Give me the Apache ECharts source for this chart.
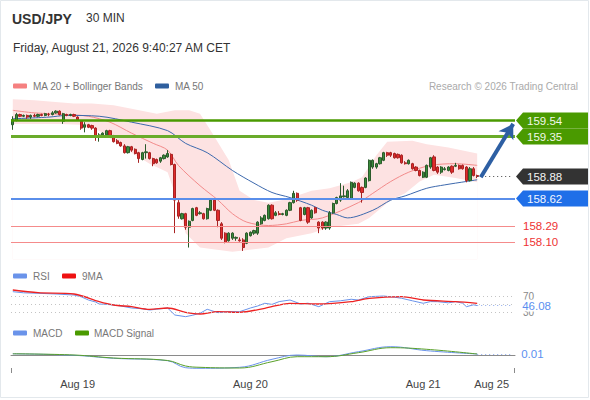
<!DOCTYPE html>
<html><head><meta charset="utf-8">
<script src="https://cdn.jsdelivr.net/npm/echarts/dist/echarts.min.js"></script>
<style>html,body{margin:0;padding:0;background:#fff}#c{width:590px;height:400px}</style>
</head><body><div id="c"></div><script>
// ---------- data ----------
const N_CATS = 140;
const tickIdx = [18, 66, 114, 133];
const tickLabels = ['Aug 19', 'Aug 20', 'Aug 21', 'Aug 25'];

const open = [159.49,159.54,159.61,159.59,159.60,159.58,159.60,159.59,159.61,159.60,
159.61,159.61,159.63,159.65,159.53,159.61,159.60,159.61,159.58,159.53,
159.46,159.49,159.48,159.45,159.35,159.37,159.37,159.42,159.36,159.30,
159.28,159.24,159.16,159.23,159.20,159.16,159.08,159.16,159.16,159.09,
159.08,159.06,159.09,159.11,159.14,159.02,158.57,158.38,158.44,158.28,
158.36,158.51,158.44,158.44,158.38,158.48,158.60,158.48,158.32,158.21,
158.12,158.15,158.15,158.13,158.13,158.09,158.18,158.21,158.21,158.32,
158.36,158.38,158.54,158.42,158.44,158.43,158.42,158.48,158.57,158.68,
158.51,158.43,158.51,158.39,158.51,158.34,158.34,158.27,158.27,158.45,
158.56,158.60,158.64,158.63,158.62,158.75,158.80,158.75,158.75,158.83,
158.99,158.99,159.03,159.07,159.16,159.16,159.15,159.14,159.13,159.04,
159.03,159.03,158.99,158.95,158.87,158.87,158.99,159.11,158.99,158.93,
158.96,158.95,159.00,159.00,159.01,159.01,158.99,158.83,158.97,158.89];
const close = [159.55,159.61,159.59,159.60,159.58,159.60,159.59,159.61,159.60,159.62,
159.61,159.63,159.65,159.61,159.62,159.60,159.61,159.59,159.55,159.45,
159.49,159.46,159.45,159.36,159.37,159.39,159.42,159.36,159.29,159.27,
159.24,159.16,159.23,159.19,159.15,159.09,159.16,159.17,159.09,159.03,
159.04,159.10,159.13,159.15,159.02,158.60,158.41,158.44,158.28,158.35,
158.50,158.42,158.45,158.38,158.50,158.60,158.48,158.36,158.15,158.10,
158.21,158.21,158.16,158.12,158.04,158.21,158.22,158.24,158.34,158.39,
158.42,158.54,158.38,158.45,158.43,158.44,158.48,158.57,158.68,158.60,
158.36,158.51,158.34,158.48,158.45,158.27,158.27,158.34,158.45,158.56,
158.63,158.65,158.65,158.71,158.81,158.80,158.71,158.69,158.86,159.07,
159.07,159.03,159.10,159.16,159.13,159.13,159.10,159.10,159.04,159.03,
159.07,158.97,158.95,158.89,158.93,159.01,159.10,158.95,158.93,158.99,
158.97,158.99,158.93,159.01,158.97,158.97,158.83,158.97,158.89,158.88];
const low = [159.43,159.53,159.58,159.58,159.56,159.56,159.58,159.58,159.59,159.59,
159.59,159.60,159.62,159.60,159.50,159.59,159.59,159.58,159.54,159.43,
159.40,159.45,159.43,159.30,159.29,159.36,159.36,159.35,159.28,159.26,
159.23,159.15,159.15,159.17,159.14,159.04,159.07,159.09,159.08,159.00,
159.03,159.04,159.08,159.10,159.01,158.21,158.38,158.37,158.25,158.04,
158.35,158.41,158.43,158.37,158.37,158.47,158.47,158.28,158.13,158.09,
158.11,158.13,158.12,158.11,158.00,158.08,158.17,158.19,158.19,158.31,
158.35,158.37,158.37,158.41,158.42,158.42,158.41,158.47,158.56,158.58,
158.35,158.42,158.32,158.38,158.44,158.21,158.25,158.25,158.25,158.44,
158.55,158.58,158.63,158.62,158.61,158.74,158.70,158.57,158.74,158.82,
158.97,158.97,159.02,159.06,159.11,159.11,159.09,159.09,159.03,159.02,
159.02,158.96,158.94,158.88,158.86,158.86,158.97,158.94,158.91,158.91,
158.95,158.94,158.91,158.99,158.96,158.96,158.81,158.82,158.88,158.86];
const high = [159.59,159.63,159.62,159.61,159.61,159.61,159.62,159.62,159.62,159.63,
159.63,159.65,159.66,159.66,159.63,159.62,159.62,159.62,159.59,159.54,
159.52,159.50,159.49,159.46,159.39,159.40,159.43,159.43,159.37,159.32,
159.29,159.26,159.24,159.24,159.21,159.17,159.17,159.26,159.17,159.10,
159.09,159.11,159.14,159.19,159.15,159.03,158.60,158.45,158.45,158.36,
158.51,158.52,158.47,158.45,158.51,158.61,158.61,158.49,158.34,158.22,
158.22,158.22,158.17,158.16,158.15,158.22,158.23,158.25,158.35,158.41,
158.43,158.55,158.55,158.47,158.47,158.45,158.49,158.58,158.71,158.69,
158.52,158.52,158.52,158.49,158.52,158.35,158.35,158.35,158.47,158.57,
158.64,158.80,158.77,158.73,158.82,158.81,158.81,158.76,158.87,159.08,
159.08,159.04,159.11,159.17,159.17,159.17,159.16,159.15,159.14,159.06,
159.08,159.04,159.00,158.96,158.94,159.02,159.11,159.13,159.00,159.00,
158.99,159.00,159.01,159.04,159.02,159.02,159.00,158.99,158.99,158.90];

// [bar index, value]
const ma20 = [[0,159.66],[6,159.63],[15,159.61],[21,159.59],[27,159.52],[33,159.39],[39,159.27],[43,159.19],[46,159.01],[52,158.77],[57,158.60],[61,158.44],[65,158.34],[71,158.30],[76,158.32],[80,158.36],[86,158.39],[96,158.57],[100,158.68],[105,158.82],[110,158.93],[116,159.01],[123,159.03],[129,159.01]];
const ma50 = [[0,159.56],[10,159.58],[15,159.60],[24,159.59],[33,159.52],[43,159.42],[48,159.27],[54,159.16],[61,158.95],[67,158.80],[72,158.69],[77,158.63],[83,158.54],[86,158.48],[90,158.43],[93,158.39],[100,158.48],[105,158.60],[109,158.65],[115,158.74],[120,158.78],[126,158.82],[129,158.84]];
const bbUpper = [[0,159.79],[6,159.78],[11,159.76],[17,159.74],[22,159.74],[28,159.72],[33,159.68],[40,159.62],[45,159.66],[49,159.66],[52,159.62],[55,159.42],[60,159.07],[63,158.71],[67,158.60],[71,158.57],[76,158.61],[83,158.71],[88,158.74],[94,158.81],[97,158.87],[101,159.13],[104,159.29],[111,159.30],[115,159.26],[121,159.22],[129,159.15]];
const bbLower = [[0,159.50],[13,159.50],[19,159.49],[24,159.42],[30,159.24],[33,159.16],[38,159.03],[43,158.93],[46,158.56],[48,158.21],[52,158.04],[61,157.99],[71,158.04],[76,158.15],[83,158.21],[88,158.28],[96,158.32],[99,158.39],[105,158.60],[109,158.68],[113,158.82],[117,158.90],[123,158.86],[129,158.81]];

const rsi = [[0,80.8],[3,78],[7,76.8],[12,75],[17,72.5],[19,68],[21,60],[23,55],[24,50],[26,49],[28,47.5],[30,45],[33,40],[36,38],[38,35],[40,37],[43,40],[45,22.5],[48,18.3],[50,22],[52,26.8],[54,36.8],[57,28.3],[60,31],[63,30.8],[66,40],[68,45],[70,51.8],[72,49],[74,56],[77,60],[80,50],[82,52],[85,43.3],[88,55.8],[91,58],[94,61.8],[96,60],[99,68.3],[103,70],[106,67],[108,64.3],[111,58],[114,51.8],[116,56],[118,55.8],[121,53],[123,55.8],[125,52],[126,43.3],[128,48],[129,46.08]];
const rsiMA = [[0,85],[7,78.3],[17,75],[24,55.8],[28,47.5],[33,43.3],[38,36.8],[43,40],[48,29.3],[52,25],[57,30.8],[63,29.3],[70,39.3],[77,51.8],[85,50],[94,55.8],[99,64.3],[108,68.3],[114,60],[123,55.8],[129,51.8]];
const macd = [[0,0.012],[17,-0.003],[28,-0.033],[43,-0.057],[48,-0.127],[52,-0.133],[63,-0.123],[72,-0.043],[79,0.0],[87,-0.017],[96,0.033],[105,0.083],[115,0.043],[129,0.01]];
const macdSignal = [[0,0.012],[17,0.0],[28,-0.03],[43,-0.055],[48,-0.11],[52,-0.123],[63,-0.13],[72,-0.067],[79,-0.017],[87,-0.017],[96,0.023],[105,0.073],[115,0.057],[129,0.01]];

const resistance = [159.54, 159.35];
const lastPrice = 158.88;
const pivot = 158.62;
const support = [158.29, 158.10];
const targetPrice = 159.50;
const rsiLevels = [70, 50, 30];
const rsiLast = 46.08;
const macdLast = 0.01;

// ---------- chart ----------
const FONT = 'Liberation Sans, Arial, sans-serif';
const cats = Array.from({length: N_CATS}, (_, i) => String(i));
const candles = open.map((o, i) => [o, close[i], low[i], high[i]]);
const lastIdx = open.length - 1;

const chart = echarts.init(document.getElementById('c'), null, {renderer: 'svg'});
const gridL = 11, gridR = 75;
const xBase = {type: 'category', data: cats, boundaryGap: true, axisLine: {show: false}, axisTick: {show: false}, axisLabel: {show: false}, splitLine: {show: false}};

const endLabel = (txt, color, size, bg) => ({show: true, position: 'end', distance: 8, formatter: txt, color: color, fontSize: size, fontFamily: FONT, backgroundColor: bg || 'transparent', padding: bg ? [0, 1] : 0});

const option = {
  animation: false,
  textStyle: {fontFamily: FONT},
  grid: [
    {left: gridL, right: gridR, top: 90, height: 169.4},
    {left: gridL, right: gridR, top: 288, height: 32},
    {left: gridL, right: gridR, top: 339, height: 34}
  ],
  xAxis: [
    Object.assign({gridIndex: 0}, xBase),
    Object.assign({gridIndex: 1}, xBase),
    Object.assign({}, xBase, {gridIndex: 2,
      axisLine: {show: true, lineStyle: {color: '#8a8a8a', width: 1}},
      axisLabel: {show: true, color: '#444', fontSize: 11, margin: 5, fontFamily: FONT,
        interval: (i) => tickIdx.indexOf(i) >= 0,
        formatter: (v, i) => { const k = tickIdx.indexOf(Number(v)); return k >= 0 ? tickLabels[k] : ''; }}
    })
  ],
  yAxis: [
    {gridIndex: 0, type: 'value', min: 157.9, max: 159.9, show: false, splitLine: {show: false}},
    {gridIndex: 1, type: 'value', min: 10, max: 90, show: false, splitLine: {show: false}},
    {gridIndex: 2, type: 'value', min: -0.18, max: 0.16, show: false, splitLine: {show: false}}
  ],
  series: [
    {name: 'BB upper', type: 'line', data: bbUpper, symbol: 'none', silent: true, z: 1,
      lineStyle: {width: 0}, areaStyle: {color: '#fde2e2', opacity: 1, origin: 'start'}},
    {name: 'BB lower', type: 'line', data: bbLower, symbol: 'none', silent: true, z: 1,
      lineStyle: {width: 0}, areaStyle: {color: '#ffffff', opacity: 1, origin: 'start'}},
    {name: 'MA 20', type: 'line', data: ma20, symbol: 'none', smooth: 0.3, z: 3,
      lineStyle: {color: '#f28a8a', width: 1}},
    {name: 'MA 50', type: 'line', data: ma50, symbol: 'none', smooth: 0.3, z: 3,
      lineStyle: {color: '#3d69ad', width: 1}},
    {name: 'USD/JPY', type: 'candlestick', data: candles, barWidth: 2.8, z: 4,
      itemStyle: {color: '#3a8b3a', color0: '#e02b2b', borderColor: '#2a5a2a', borderColor0: '#a82222', borderWidth: 1},
      markLine: {silent: true, symbol: ['none', 'none'], animation: false, label: {show: false},
        data: [
          {yAxis: resistance[1], lineStyle: {color: '#6aab2a', width: 3, type: 'solid'}},
          {yAxis: resistance[0], lineStyle: {color: '#4a9a00', width: 2.5, type: 'solid'}},
          {yAxis: pivot, lineStyle: {color: '#5a8eea', width: 2, type: 'solid'}},
          {yAxis: support[0], lineStyle: {color: '#f58b8b', width: 1, type: 'solid'}, label: endLabel(String(support[0].toFixed(2)), '#ee3333', 11.5)},
          {yAxis: support[1], lineStyle: {color: '#f58b8b', width: 1, type: 'solid'}, label: endLabel(String(support[1].toFixed(2)), '#ee3333', 11.5)},
          [{coord: [lastIdx, lastPrice], lineStyle: {color: '#444', width: 1, type: [1, 3]}}, {coord: [N_CATS - 1, lastPrice]}],
          [{coord: [lastIdx + 1, 158.87], symbol: 'none', lineStyle: {color: '#2d5fa3', width: 4, type: 'solid'}},
           {coord: [N_CATS - 1, targetPrice], symbol: 'arrow', symbolSize: [13, 14]}]
        ]}
    },
    {name: 'RSI', type: 'line', xAxisIndex: 1, yAxisIndex: 1, data: rsi, symbol: 'none', z: 3,
      lineStyle: {color: '#6a93ea', width: 1},
      markLine: {silent: true, symbol: ['none', 'none'], animation: false, label: {show: false},
        data: [
          {yAxis: rsiLevels[0], lineStyle: {color: '#c4c4c4', width: 1, type: [1, 3]}, label: endLabel(String(rsiLevels[0]), '#888', 10)},
          {yAxis: rsiLevels[1], lineStyle: {color: '#c4c4c4', width: 1, type: [1, 3]}},
          {yAxis: rsiLevels[2], lineStyle: {color: '#c4c4c4', width: 1, type: [1, 3]}, label: endLabel(String(rsiLevels[2]), '#888', 10)},
          [{coord: [lastIdx, rsiLast], lineStyle: {color: '#8aa8ee', width: 1, type: [1, 3]}, label: endLabel(rsiLast.toFixed(2), '#5b8ff0', 11.5, '#fff')}, {coord: [N_CATS - 1, rsiLast]}]
        ]}
    },
    {name: '9MA', type: 'line', xAxisIndex: 1, yAxisIndex: 1, data: rsiMA, symbol: 'none', smooth: 0.3, z: 3,
      lineStyle: {color: '#ee2222', width: 1.3}},
    {name: 'MACD', type: 'line', xAxisIndex: 2, yAxisIndex: 2, data: macd, symbol: 'none', smooth: 0.4, z: 3,
      lineStyle: {color: '#6a93ea', width: 1},
      markLine: {silent: true, symbol: ['none', 'none'], animation: false,
        data: [
          [{coord: [lastIdx, macdLast], lineStyle: {color: '#8aa8ee', width: 1, type: [1, 3]}, label: endLabel(macdLast.toFixed(2), '#5b8ff0', 11.5)}, {coord: [N_CATS - 1, macdLast]}]
        ]}
    },
    {name: 'MACD Signal', type: 'line', xAxisIndex: 2, yAxisIndex: 2, data: macdSignal, symbol: 'none', smooth: 0.4, z: 3,
      lineStyle: {color: '#5aa02a', width: 1}}
  ]
};
chart.setOption(option);

// ---------- decorations: text, legends, price tags ----------
const g = [];
const txt = (x, y, s, size, color, weight, align) => g.push({type: 'text', silent: true, z: 20,
  style: {x: x, y: y, text: s, fill: color, fontSize: size, fontWeight: weight || 'normal', fontFamily: FONT, align: align || 'left', verticalAlign: 'middle'}});
const icon = (x, y, color) => g.push({type: 'rect', silent: true, z: 20, shape: {x: x, y: y - 2.5, width: 14, height: 5, r: 1}, style: {fill: color}});

g.push({type: 'rect', silent: true, z: 0, shape: {x: 0.5, y: 0.5, width: 588, height: 397}, style: {fill: 'none', stroke: '#e3e8ec', lineWidth: 1}});
txt(12, 19, 'USD/JPY', 14, '#333', 'bold');
txt(86, 18, '30 MIN', 12, '#333');
txt(13, 48, 'Friday, August 21, 2026 9:40:27 AM CET', 12, '#333');
icon(13, 86, '#f58080'); txt(33, 86, 'MA 20 + Bollinger Bands', 10, '#777');
icon(155, 86, '#2f5f9e'); txt(175, 86, 'MA 50', 10, '#777');
txt(578, 86, 'Research \u00A9 2026 Trading Central', 10, '#aaa', 'normal', 'right');
icon(13, 276, '#6a93ea'); txt(33, 276, 'RSI', 10, '#777');
icon(62, 276, '#ee1111'); txt(82, 276, '9MA', 10, '#777');
icon(13, 333, '#6a93ea'); txt(33, 333, 'MACD', 10, '#777');
icon(75, 333, '#4a9a00'); txt(94, 333, 'MACD Signal', 10, '#777');

// axis end ticks
const axisY = 339 + 34;
[gridL + 0.5, 590 - gridR - 0.5].forEach(x => g.push({type: 'line', silent: true, z: 20,
  shape: {x1: x, y1: axisY - 5, x2: x, y2: axisY}, style: {stroke: '#8a8a8a', lineWidth: 1}}));

// price tags
const tag = (value, color, textColor) => {
  const y = chart.convertToPixel({xAxisIndex: 0, yAxisIndex: 0}, [0, value])[1];
  const x0 = 516, x1 = 523, x2 = 588, h = 8;
  g.push({type: 'polygon', silent: true, z: 20, shape: {points: [[x0, y], [x1, y - h], [x2, y - h], [x2, y + h], [x1, y + h]]}, style: {fill: color}});
  txt(527, y + 0.5, value.toFixed(2), 11.5, textColor || '#fff');
};
tag(resistance[0], '#4a9a00', '#f0f8e8');
tag(resistance[1], '#4a9a00', '#f0f8e8');
tag(lastPrice, '#333333', '#f2f2f2');
tag(pivot, '#1f6fe8', '#f2f6ff');

chart.setOption({graphic: g});
</script></body></html>
